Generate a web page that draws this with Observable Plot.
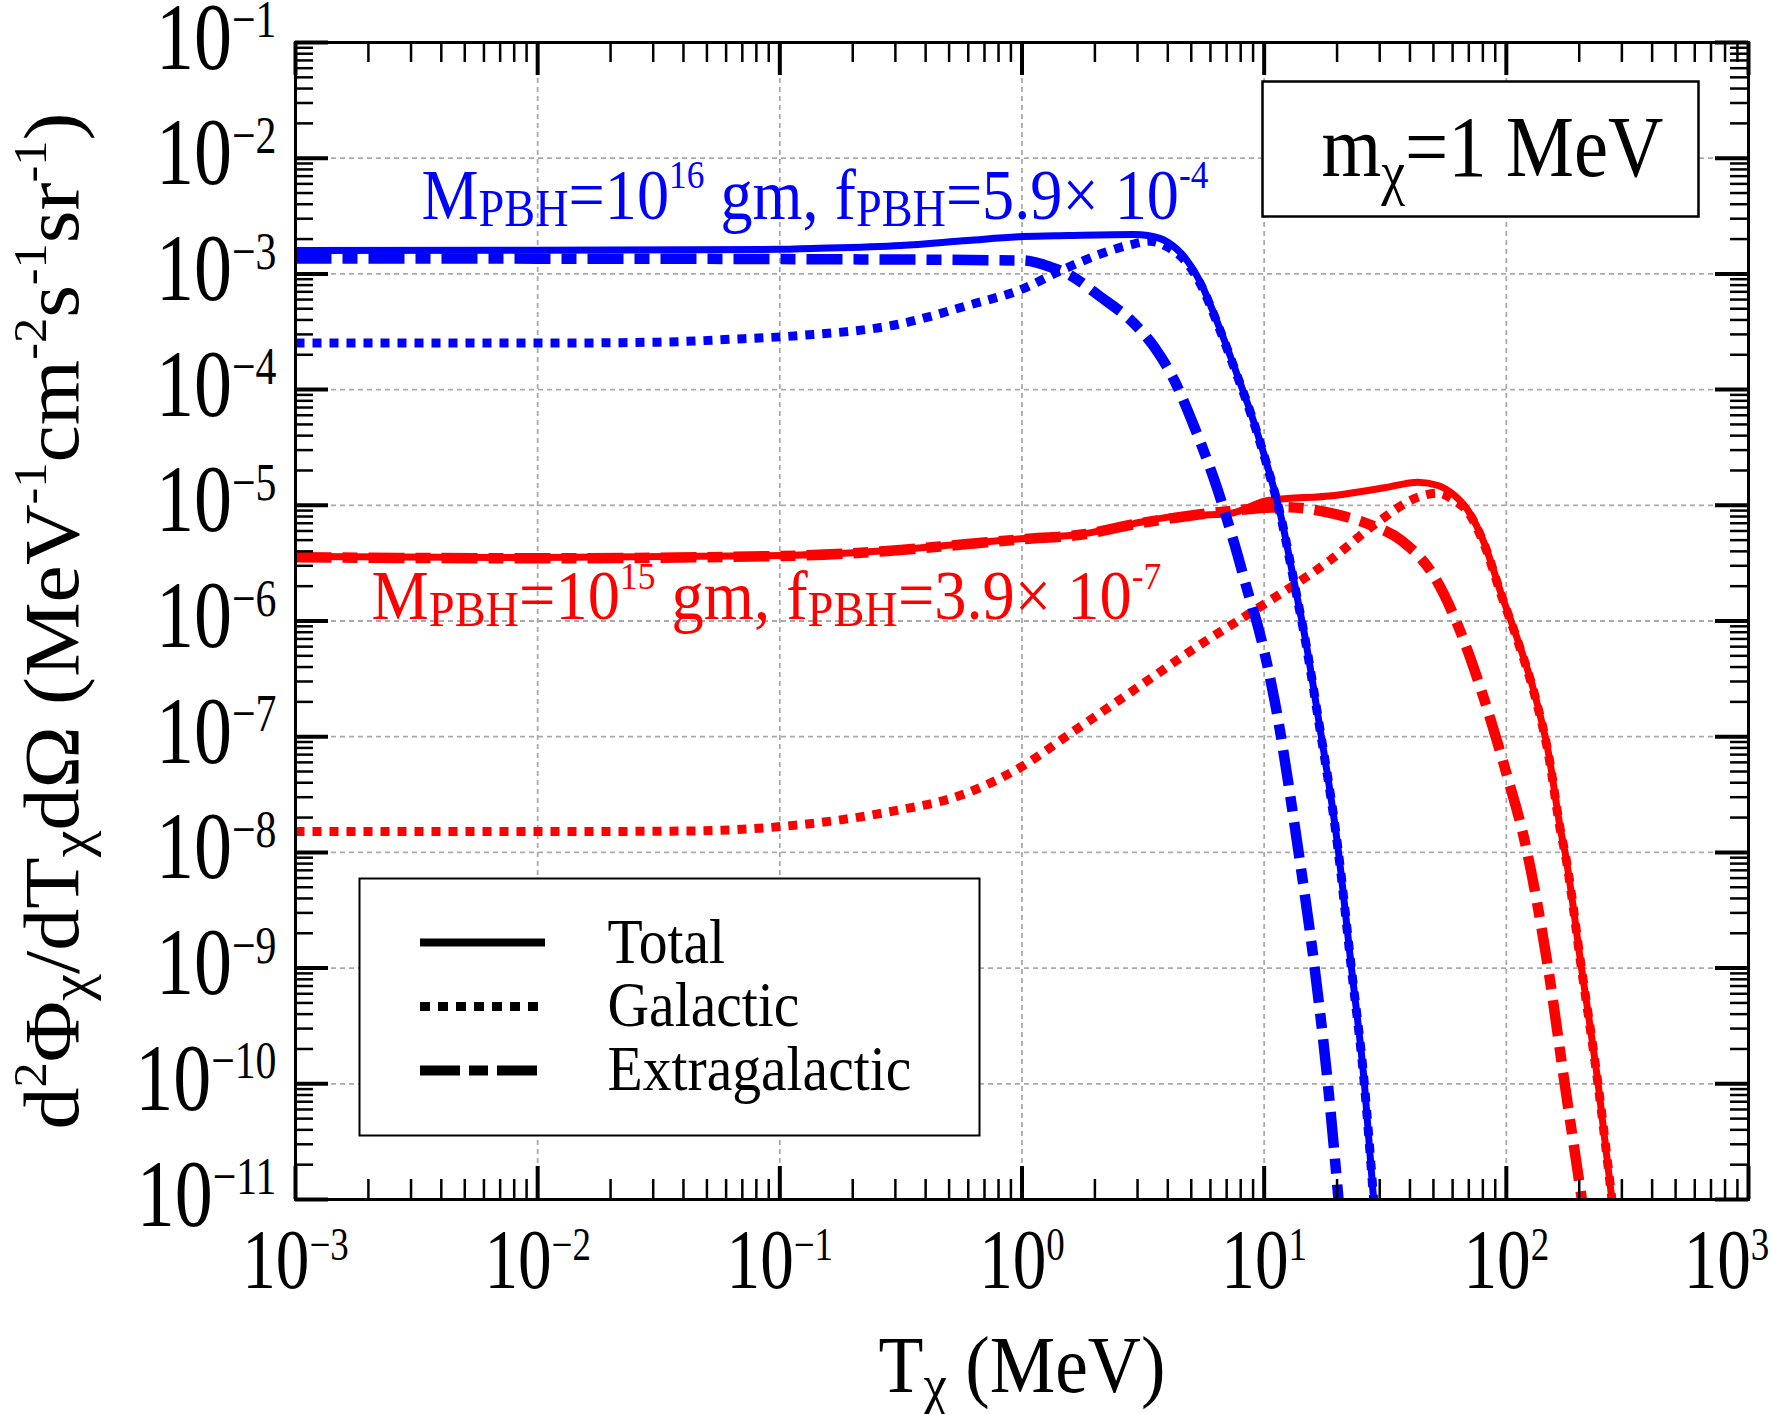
<!DOCTYPE html>
<html>
<head>
<meta charset="utf-8">
<script src="https://cdn.jsdelivr.net/npm/d3@7"></script>
<script src="https://cdn.jsdelivr.net/npm/@observablehq/plot@0.6"></script>
<style>
  body { margin: 0; background: #fff; }
  svg { display: block; }
</style>
</head>
<body>
<script>
// ---------------- DATA (log10 values) ----------------
// M_PBH = 1e16 g (blue)
const blueTotalLogT = [-3, -2, -1, -0.913, -0.5, -0.2245, 0.003, 0.189, 0.464, 0.519, 0.602, 0.671, 0.740, 0.809, 0.877, 0.946, 1.015, 1.070, 1.112, 1.139, 1.166, 1.223, 1.306, 1.36, 1.414, 1.452];
const blueTotalLogF = [-2.797, -2.796, -2.788, -2.783, -2.755, -2.711, -2.677, -2.668, -2.659, -2.668, -2.726, -2.855, -3.086, -3.431, -3.806, -4.209, -4.671, -5.103, -5.535, -5.823, -6.11, -6.83, -7.98, -8.99, -10.0, -11.0];

const blueGalLogT = [-3, -2, -1.5, -1.2, -0.913, -0.5, -0.2245, 0.003, 0.161, 0.326, 0.464, 0.526, 0.602, 0.684, 0.740, 0.809, 0.877, 0.946, 1.015, 1.070, 1.112, 1.139, 1.166, 1.223, 1.306, 1.36, 1.414, 1.452];
const blueGalLogF = [-3.598, -3.598, -3.59, -3.565, -3.532, -3.431, -3.273, -3.129, -2.971, -2.826, -2.740, -2.717, -2.769, -2.913, -3.10, -3.44, -3.815, -4.215, -4.68, -5.11, -5.54, -5.83, -6.12, -6.84, -7.99, -9.0, -10.01, -11.0];

const blueExtraLogT = [-3, -2, -1, 0.003, 0.12, 0.189, 0.326, 0.464, 0.547, 0.629, 0.712, 0.795, 0.877, 0.939, 0.960, 1.043, 1.139, 1.208, 1.263, 1.307];
const blueExtraLogF = [-2.867, -2.868, -2.872, -2.884, -2.942, -3.0, -3.201, -3.431, -3.634, -3.921, -4.325, -4.786, -5.333, -5.794, -5.938, -6.687, -7.955, -8.992, -10.0, -11.0];

// M_PBH = 1e15 g (red)
const redTotalLogT = [-3, -2, -0.992, -0.556, -0.237, -0.005, 0.256, 0.459, 0.603, 0.864, 1.015, 1.29, 1.497, 1.635, 1.718, 1.786, 1.842, 1.910, 1.979, 2.048, 2.117, 2.172, 2.227, 2.241, 2.310, 2.379, 2.436];
const redTotalLogF = [-5.443, -5.452, -5.434, -5.391, -5.333, -5.290, -5.246, -5.160, -5.102, -5.068, -4.959, -4.915, -4.849, -4.800, -4.829, -4.915, -5.045, -5.333, -5.765, -6.169, -6.629, -7.119, -7.839, -7.984, -8.992, -10.0, -11.0];

const redGalLogT = [-3, -2, -1.37, -0.992, -0.556, -0.237, -0.005, 0.198, 0.459, 0.720, 0.981, 1.271, 1.46, 1.635, 1.718, 1.786, 1.842, 1.910, 1.979, 2.048, 2.117, 2.172, 2.227, 2.241, 2.310, 2.379, 2.436];
const redGalLogF = [-7.82, -7.82, -7.815, -7.776, -7.652, -7.494, -7.263, -6.975, -6.601, -6.226, -5.880, -5.477, -5.16, -4.930, -4.895, -4.959, -5.06, -5.345, -5.775, -6.18, -6.64, -7.13, -7.85, -7.99, -9.0, -10.01, -11.0];

const redExtraLogT = [-3, -2, -0.992, -0.556, -0.237, -0.005, 0.256, 0.459, 0.602, 0.877, 1.084, 1.29, 1.428, 1.566, 1.704, 1.814, 1.910, 1.993, 2.083, 2.172, 2.241, 2.312];
const redExtraLogF = [-5.449, -5.458, -5.438, -5.395, -5.337, -5.294, -5.25, -5.165, -5.117, -5.045, -5.016, -5.074, -5.160, -5.304, -5.621, -6.111, -6.687, -7.263, -7.97, -8.992, -10.0, -11.0];

// axis ticks (decade exponents)
const xDecades = [-3, -2, -1, 0, 1, 2, 3];
const yDecades = [-11, -10, -9, -8, -7, -6, -5, -4, -3, -2, -1];
const minorMultipliers = [2, 3, 4, 5, 6, 7, 8, 9];

// texts
const blueLabel = "M_{PBH}=10^{16} gm, f_{PBH}=5.9× 10^{-4}";
const redLabel = "M_{PBH}=10^{15} gm, f_{PBH}=3.9× 10^{-7}";
const massLabel = "m_{χ}=1 MeV";
const legendLabels = ["Total", "Galactic", "Extragalactic"];
const xTitle = "T_{χ} (MeV)";
const yTitle = "d^{2}Φ_{χ}/dT_{χ}dΩ (MeV^{-1}cm^{-2}s^{-1}sr^{-1})";

// ---------------- build ----------------
const series = (lt, lf) => lt.map((t, i) => ({T: 10 ** t, F: 10 ** lf[i]}));
const blueTotal = series(blueTotalLogT, blueTotalLogF);
const blueGal = series(blueGalLogT, blueGalLogF);
const blueExtra = series(blueExtraLogT, blueExtraLogF);
const redTotal = series(redTotalLogT, redTotalLogF);
const redGal = series(redGalLogT, redGalLogF);
const redExtra = series(redExtraLogT, redExtraLogF);

const xMajor = xDecades.map(e => 10 ** e);
const yMajor = yDecades.map(e => 10 ** e);
const xMinor = xDecades.slice(0, -1).flatMap(e => minorMultipliers.map(k => k * 10 ** e));
const yMinor = yDecades.slice(0, -1).flatMap(e => minorMultipliers.map(k => k * 10 ** e));
const expo = d => { const e = Math.round(Math.log10(d)); return e < 0 ? "−" + (-e) : String(e); };

// layout (pixel positions converted into data space for the legend)
const W = 1771, H = 1414;
const M = {left: 295, right: 23, top: 42, bottom: 215};
const FW = W - M.left - M.right, FH = H - M.top - M.bottom;
const px2x = px => 10 ** (-3 + 6 * (px - M.left) / FW);
const px2y = py => 10 ** (-1 - 10 * (py - M.top) / FH);
const legendLineY = [942, 1006, 1070], legendTextY = [962, 1025, 1089];
const legendRows = legendLabels.map((label, i) => ({
  label, y: px2y(legendLineY[i]), x1: px2x(420), x2: px2x(545), tx: px2x(607), ty: px2y(legendTextY[i])
}));

const BLUE = "#0000ff", RED = "#ff0000";
const SOLID_W = 7, DOT_W = 9, DASH_W = 10.5;
const DOTS = "9,8", DASHDOT = "36,11,15,11";
const grid = {stroke: "#aaaaaa", strokeWidth: 1.8, strokeDasharray: "5,4"};
const lineStyle = {x: "T", y: "F", curve: "monotone-x", strokeLinecap: "butt", strokeLinejoin: "round"};

const tickFmt = "s=0.8;sup=0.55;raise=0.33";
const ytickFmt = "s=0.8;sup=0.55;raise=0.33";

const svg = Plot.plot({
  width: W, height: H,
  marginLeft: M.left, marginRight: M.right, marginTop: M.top, marginBottom: M.bottom,
  x: {type: "log", domain: [1e-3, 1e3], axis: null},
  y: {type: "log", domain: [1e-11, 1e-1], axis: null},
  style: {fontFamily: "'Liberation Serif', 'Times New Roman', serif", background: "white", color: "black"},
  marks: [
    Plot.ruleX(xMajor.slice(1, -1), {x: d => d, ...grid}),
    Plot.ruleY(yMajor.slice(1, -1), {y: d => d, ...grid}),
    // boxes
    Plot.frame({fill: "white", stroke: "black", strokeWidth: 2.5, insetLeft: 967, insetRight: 50, insetTop: 39, insetBottom: 983}),
    Plot.frame({fill: "white", stroke: "black", strokeWidth: 2, insetLeft: 64, insetRight: 769, insetTop: 836, insetBottom: 64}),
    // red curves
    Plot.line(redGal, {...lineStyle, stroke: RED, strokeWidth: DOT_W, strokeDasharray: DOTS}),
    Plot.line(redExtra, {...lineStyle, stroke: RED, strokeWidth: DASH_W, strokeDasharray: DASHDOT}),
    Plot.line(redTotal, {...lineStyle, stroke: RED, strokeWidth: SOLID_W}),
    // blue curves
    Plot.line(blueGal, {...lineStyle, stroke: BLUE, strokeWidth: DOT_W, strokeDasharray: DOTS}),
    Plot.line(blueExtra, {...lineStyle, stroke: BLUE, strokeWidth: DASH_W, strokeDasharray: DASHDOT}),
    Plot.line(blueTotal, {...lineStyle, stroke: BLUE, strokeWidth: SOLID_W}),
    // legend samples
    Plot.ruleY(legendRows.slice(0, 1), {y: "y", x1: "x1", x2: "x2", stroke: "black", strokeWidth: 8}),
    Plot.ruleY(legendRows.slice(1, 2), {y: "y", x1: "x1", x2: "x2", stroke: "black", strokeWidth: 9, strokeDasharray: "10,8"}),
    Plot.ruleY(legendRows.slice(2, 3), {y: "y", x1: "x1", x2: "x2", stroke: "black", strokeWidth: 10, strokeDasharray: "40,9,19,9"}),
    Plot.text(legendRows, {x: "tx", y: "ty", text: d => "[s=0.9]" + d.label, fontSize: 64, textAnchor: "start", lineAnchor: "bottom"}),
    // ticks
    Plot.tickX(xMajor, {x: d => d, stroke: "black", strokeWidth: 4, insetTop: FH - 33}),
    Plot.tickX(xMajor, {x: d => d, stroke: "black", strokeWidth: 4, insetBottom: FH - 33}),
    Plot.tickX(xMinor, {x: d => d, stroke: "black", strokeWidth: 2.5, insetTop: FH - 20}),
    Plot.tickX(xMinor, {x: d => d, stroke: "black", strokeWidth: 2.5, insetBottom: FH - 20}),
    Plot.tickY(yMajor, {y: d => d, stroke: "black", strokeWidth: 4, insetRight: FW - 33}),
    Plot.tickY(yMajor, {y: d => d, stroke: "black", strokeWidth: 4, insetLeft: FW - 33}),
    Plot.tickY(yMinor, {y: d => d, stroke: "black", strokeWidth: 2.5, insetRight: FW - 18}),
    Plot.tickY(yMinor, {y: d => d, stroke: "black", strokeWidth: 2.5, insetLeft: FW - 18}),
    Plot.frame({stroke: "black", strokeWidth: 3}),
    // tick labels
    Plot.text(xMajor.slice(0, -1), {x: d => d, frameAnchor: "bottom", text: d => `[${tickFmt}]10^{${expo(d)}}`, fontSize: 84, textAnchor: "middle", lineAnchor: "bottom", dy: 88}),
    Plot.text(xMajor.slice(-1), {x: d => d, frameAnchor: "bottom", text: d => `[${tickFmt}]10^{${expo(d)}}`, fontSize: 84, textAnchor: "middle", lineAnchor: "bottom", dx: -22, dy: 88}),
    Plot.text(yMajor, {y: d => d, frameAnchor: "left", text: d => `[${ytickFmt}]10^{${expo(d)}}`, fontSize: 95, textAnchor: "end", lineAnchor: "bottom", dx: -19, dy: 26}),
    // annotations
    Plot.text([blueLabel], {text: d => "[w=787;sub=0.72;drop=0.11;sup=0.55;raise=0.42]" + d, frameAnchor: "top-left", dx: 126, dy: 176, fontSize: 72, fill: BLUE, textAnchor: "start", lineAnchor: "bottom"}),
    Plot.text([redLabel], {text: d => "[w=790;sub=0.72;drop=0.11;sup=0.55;raise=0.42]" + d, frameAnchor: "top-left", dx: 76, dy: 576, fontSize: 70, fill: RED, textAnchor: "start", lineAnchor: "bottom"}),
    Plot.text([massLabel], {text: d => "[w=342;sub=0.7;drop=0.2]" + d, frameAnchor: "top-left", dx: 1026, dy: 133, fontSize: 86, textAnchor: "start", lineAnchor: "bottom"}),
    // axis titles
    Plot.text([xTitle], {text: d => "[w=287;sub=0.72;drop=0.15]" + d, frameAnchor: "bottom", dy: 192, fontSize: 80, textAnchor: "middle", lineAnchor: "bottom"}),
    Plot.text([yTitle], {text: d => "[w=1017;sup=0.6;raise=0.4;sub=0.72;drop=0.15]" + d, frameAnchor: "left", rotate: -90, dx: -218, fontSize: 79, textAnchor: "middle", lineAnchor: "bottom"})
  ]
});
document.body.appendChild(svg);

// ---------------- rich text (sub/superscripts, horizontal condensing) ----------------
const NS = "http://www.w3.org/2000/svg";
function parseMarkup(s) {
  const out = [];
  const re = /(\^\{[^}]*\}|_\{[^}]*\})/g;
  let last = 0, m;
  while ((m = re.exec(s))) {
    if (m.index > last) out.push({t: s.slice(last, m.index), k: "n"});
    out.push({t: m[0].slice(2, -1), k: m[0][0] === "^" ? "sup" : "sub"});
    last = re.lastIndex;
  }
  if (last < s.length) out.push({t: s.slice(last), k: "n"});
  return out;
}
svg.querySelectorAll("text").forEach(el => {
  const m = el.textContent.match(/^\[([^\]]*)\]([\s\S]*)$/);
  if (!m) return;
  const o = {sup: 0.55, raise: 0.4, sub: 0.7, drop: 0.12};
  m[1].split(";").forEach(p => { const [k, v] = p.split("="); if (k) o[k] = +v; });
  const base = parseFloat(getComputedStyle(el).fontSize);
  el.textContent = "";
  let off = 0;
  for (const seg of parseMarkup(m[2])) {
    const ts = document.createElementNS(NS, "tspan");
    let size = base, target = 0;
    if (seg.k === "sup") { size = base * o.sup; target = -base * o.raise; }
    if (seg.k === "sub") { size = base * o.sub; target = base * o.drop; }
    if (size !== base) ts.setAttribute("font-size", size);
    const d = target - off;
    if (d) ts.setAttribute("dy", d);
    off = target;
    ts.textContent = seg.t;
    el.appendChild(ts);
  }
  let s = o.s || 1;
  if (o.w) { const w = el.getBBox().width; if (w > 0) s = o.w / w; }
  const xa = el.getAttribute("x");
  let tr = el.getAttribute("transform") || "";
  if (xa && !isNaN(+xa) && +xa !== 0) { tr += ` translate(${+xa},0)`; el.setAttribute("x", 0); }
  el.setAttribute("transform", tr + ` scale(${s},1)`);
});
</script>
</body>
</html>
